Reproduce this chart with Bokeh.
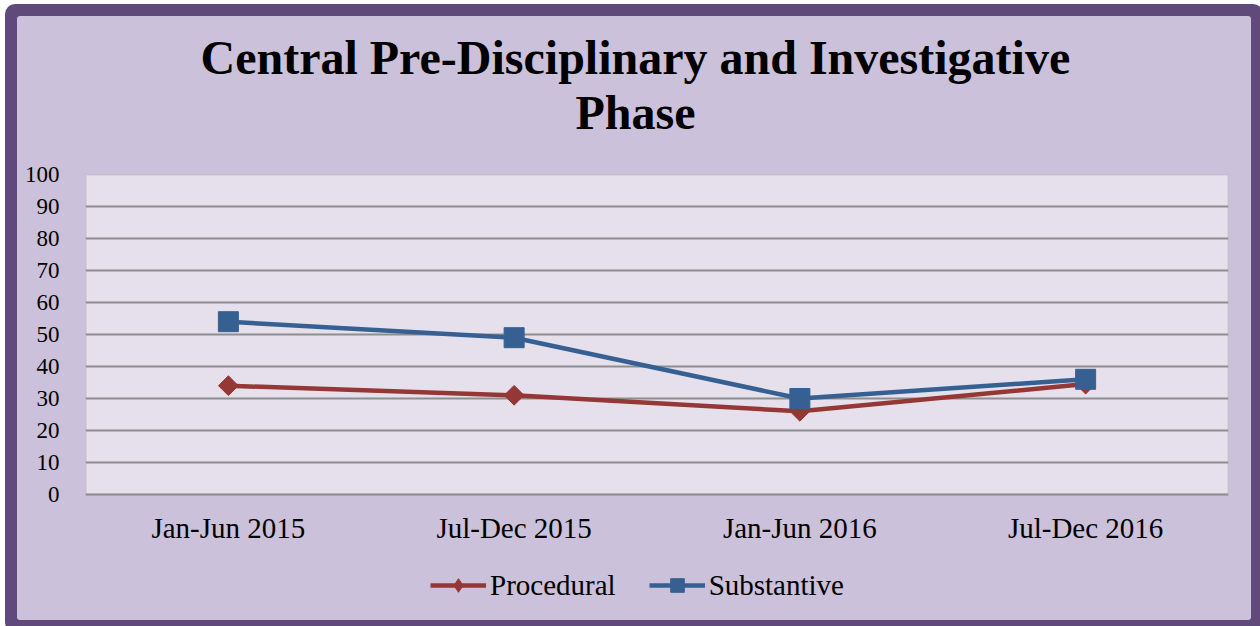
import math
from bokeh.plotting import figure
from bokeh.models import (ColumnDataSource, FactorRange, Range1d, Title, Legend,
                          LegendItem, FixedTicker, BoxAnnotation)
from bokeh.embed import file_html
from bokeh.resources import INLINE

# ---- data ----
periods = ["Jan-Jun 2015", "Jul-Dec 2015", "Jan-Jun 2016", "Jul-Dec 2016"]
procedural = [34, 31, 26, 34.5]
substantive = [54, 49, 30, 36]
y_ticks = [0, 10, 20, 30, 40, 50, 60, 70, 80, 90, 100]
title_lines = ["Central Pre-Disciplinary and Investigative", "Phase"]

FONT = "Liberation Serif"
RED = "#953735"
BLUE = "#376092"
OUTER = "#604a7b"
PANEL = "#ccc1da"
FRAME = "#e5e0ec"
GRID = "#8e8e8e"

src = ColumnDataSource(dict(period=periods, procedural=procedural, substantive=substantive))

# the frame extends below 0 so that the category labels and legend sit inside it
p = figure(width=1234, height=604, output_backend="svg", toolbar_location=None,
           x_range=FactorRange(*periods, range_padding=0), y_range=Range1d(-36.875, 100),
           min_border_left=68, min_border_right=23, min_border_top=158, min_border_bottom=8)
p.styles = {"margin-left": "17px", "margin-top": "16px", "background": PANEL,
            "border-radius": "3px", "box-shadow": f"0 0 0 12px {OUTER}"}
p.border_fill_color = None
p.background_fill_color = None
p.outline_line_color = None

plot_area = BoxAnnotation(bottom=0, top=100, fill_color=FRAME, fill_alpha=1,
                          line_color=GRID, line_width=2, level="underlay")
p.center = [plot_area] + list(p.center)

# axes
for ax in (p.xaxis[0], p.yaxis[0]):
    ax.axis_line_color = None
    ax.major_tick_line_color = None
    ax.minor_tick_line_color = None
    ax.major_label_text_font = FONT
    ax.major_label_text_color = "#000000"
p.yaxis[0].ticker = FixedTicker(ticks=y_ticks)
p.yaxis[0].major_label_text_font_size = "23px"
p.yaxis[0].major_label_standoff = 20
p.xaxis[0].fixed_location = 0
p.xaxis[0].major_label_text_font_size = "29px"
p.xaxis[0].major_label_standoff = 11

p.xgrid.grid_line_color = None
p.ygrid.ticker = FixedTicker(ticks=y_ticks)
p.ygrid.grid_line_color = GRID
p.ygrid.grid_line_width = 2

# series
r_line = p.line("period", "procedural", source=src, line_color=RED, line_width=4.5)
r_mark = p.scatter("period", "procedural", source=src, marker="square", angle=math.pi / 4,
                   size=14, fill_color=RED, line_color=RED)
r_leg = p.scatter("period", "procedural", source=src, marker="diamond", size=20,
                  fill_color=RED, line_color=RED, visible=False)
b_line = p.line("period", "substantive", source=src, line_color=BLUE, line_width=4.5)
b_mark = p.scatter("period", "substantive", source=src, marker="square",
                   size=20, fill_color=BLUE, line_color=BLUE)

legend = Legend(items=[LegendItem(label="Procedural", renderers=[r_line, r_leg]),
                       LegendItem(label="Substantive", renderers=[b_line, b_mark])],
                orientation="horizontal", location=(345, 10),
                label_text_font=FONT, label_text_font_size="29px", label_text_color="#000000",
                glyph_width=56, glyph_height=34, spacing=33, label_standoff=4,
                background_fill_alpha=0, border_line_color=None, padding=4, margin=0,
                inactive_fill_alpha=0)
p.add_layout(legend, "center")

# title: spacer nearest the frame, then the two lines
p.title.visible = False
p.add_layout(Title(text=" ", text_font_size="1px", standoff=33), "above")
for txt, off in [(title_lines[1], 490), (title_lines[0], 115)]:
    p.add_layout(Title(text=txt, align="left", offset=off, standoff=0, text_font=FONT,
                       text_font_style="bold", text_font_size="48px", text_color="#000000"),
                 "above")

open("out.html", "w").write(file_html(p, INLINE))
